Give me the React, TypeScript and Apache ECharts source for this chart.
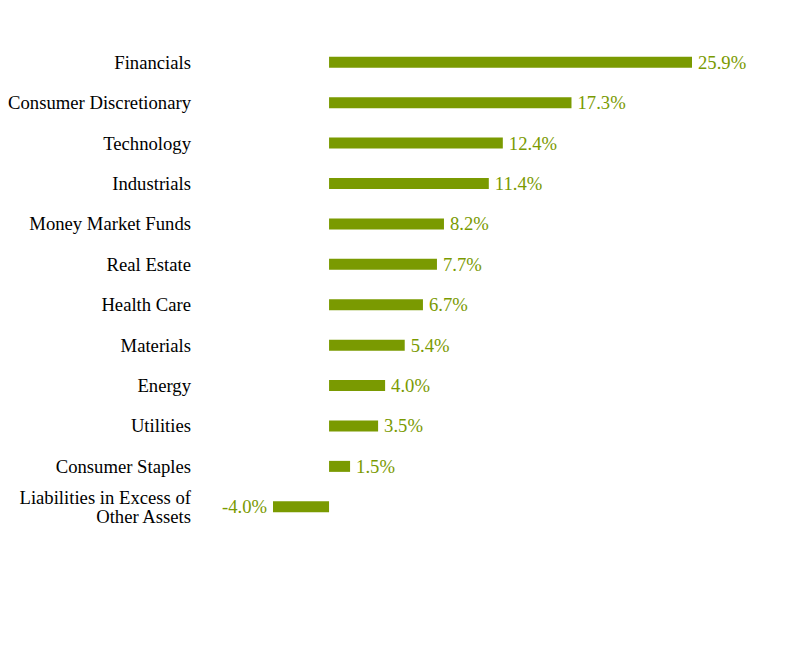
import React, { useEffect, useRef } from "react";
import * as echarts from "echarts";

const categories = [
  "Financials",
  "Consumer Discretionary",
  "Technology",
  "Industrials",
  "Money Market Funds",
  "Real Estate",
  "Health Care",
  "Materials",
  "Energy",
  "Utilities",
  "Consumer Staples",
  "Liabilities in Excess of\nOther Assets",
];
const values = [25.9, 17.3, 12.4, 11.4, 8.2, 7.7, 6.7, 5.4, 4.0, 3.5, 1.5, -4.0];

const GREEN = "#7a9a01";
const FONT = "'Liberation Serif', 'Times New Roman', serif";

export default function App() {
  const ref = useRef<HTMLDivElement>(null);
  useEffect(() => {
    if (!ref.current) return;
    const chart = echarts.init(ref.current, null, { renderer: "svg" });
    chart.setOption({
      animation: false,
      grid: { left: 273, right: 100, top: 42, bottom: 121, containLabel: false },
      xAxis: {
        type: "value",
        min: -4,
        max: 25.9,
        show: false,
        splitLine: { show: false },
      },
      yAxis: {
        type: "category",
        inverse: true,
        data: categories,
        axisLine: { show: false },
        axisTick: { show: false },
        axisLabel: {
          margin: 82,
          color: "#000",
          fontFamily: FONT,
          fontSize: 18.67,
          lineHeight: 19,
          align: "right",
          padding: [2, 0, 0, 0],
        },
      },
      series: [
        {
          type: "bar",
          data: values.map((v) => ({
            value: v,
            label: { position: v < 0 ? "left" : "right" },
          })),
          barWidth: 11,
          itemStyle: { color: GREEN },
          label: {
            show: true,
            distance: 6,
            color: GREEN,
            fontFamily: FONT,
            fontSize: 18.67,
            padding: [2, 0, 0, 0],
            formatter: (p: any) => p.value.toFixed(1) + "%",
          },
        },
      ],
    });
    return () => chart.dispose();
  }, []);
  return (
    <div
      ref={ref}
      style={{ position: "absolute", left: 0, top: 0, width: 792, height: 648, background: "#fff" }}
    />
  );
}
